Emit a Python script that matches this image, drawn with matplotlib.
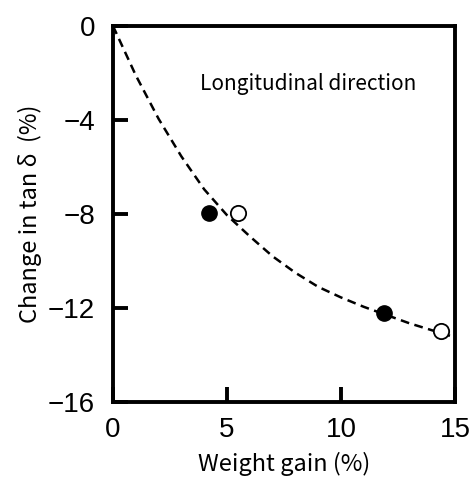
import matplotlib
matplotlib.use("Agg")
import matplotlib.pyplot as plt

# ── Data ─────────────────────────────────────────────────────
filled_x = [4.2, 11.9]
filled_y = [-7.95, -12.2]
open_x = [5.5, 14.4]
open_y = [-7.95, -13.0]

# dashed trend curve
curve_x = [0, 1, 2, 3, 4, 5, 6, 7, 8, 9, 10, 11, 12, 13, 14, 15]
curve_y = [0, -2.1, -3.95, -5.55, -6.95, -8.05, -8.95, -9.8, -10.5,
           -11.1, -11.55, -11.95, -12.3, -12.65, -12.95, -13.25]

x_ticks = [0, 5, 10, 15]
y_ticks = [0, -4, -8, -12, -16]

plt.rcParams['font.family'] = ['Noto Sans CJK JP', 'DejaVu Sans']

fig = plt.figure(figsize=(4.7, 4.83), dpi=100)
ax = fig.add_axes([0.2404, 0.1677, 0.7276, 0.7785])

ax.plot(curve_x, curve_y, color='black', lw=1.8, ls=(0, (3.5, 2.2)), zorder=2)
ax.plot(filled_x, filled_y, 'o', ms=11, mfc='black', mec='black', zorder=3)
ax.plot(open_x, open_y, 'o', ms=11, mfc='white', mec='black', mew=1.3, zorder=3)

ax.set_xlim(0, 15)
ax.set_ylim(-16, 0)
ax.set_xticks(x_ticks)
ax.set_yticks(y_ticks)
ax.set_yticklabels(['0', '−4', '−8', '−12', '−16'])

for s in ax.spines.values():
    s.set_linewidth(2.8)
ax.tick_params(direction='in', length=11, width=2.8, top=False, right=False)
ax.tick_params(axis='y', pad=13)
ax.tick_params(axis='x', pad=11)
for lab in ax.get_xticklabels() + ax.get_yticklabels():
    lab.set_family(['Liberation Sans', 'DejaVu Sans'])
    lab.set_fontsize(20)

ax.text(3.8, -2.47, 'Longitudinal direction', fontsize=15, va='center', ha='left')
ax.set_xlabel('Weight gain (%)', fontsize=17, labelpad=6)
ax.set_ylabel('Change in tan δ  (%)', fontsize=17, labelpad=4)

fig.savefig('out.png', dpi=100)
